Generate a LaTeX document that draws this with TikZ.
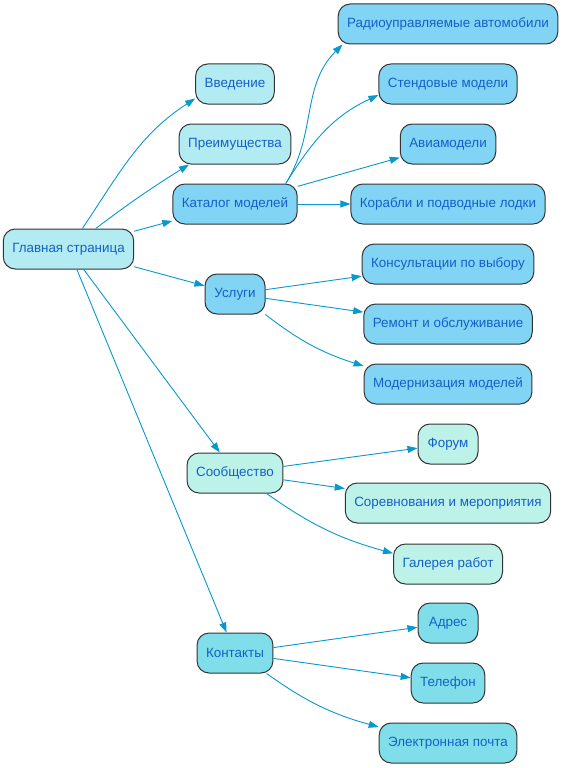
\documentclass[tikz,border=0pt]{standalone}
\usepackage{fontspec}
\setmainfont{Liberation Sans}
\usetikzlibrary{arrows.meta}
\definecolor{boxA}{HTML}{B2EBF2}
\definecolor{boxB}{HTML}{81D4F4}
\definecolor{boxC}{HTML}{BCF2E8}
\definecolor{boxD}{HTML}{80DEEA}
\definecolor{txt}{HTML}{1560C8}
\definecolor{wire}{HTML}{0898CC}
\tikzset{
  page/.style={draw=black!80, line width=1pt, rounded corners=12pt,
    minimum width=60pt, minimum height=40pt, inner xsep=9pt,
    text=txt, font=\fontsize{13.4}{15}\selectfont},
  wire/.style={draw=wire, line width=0.9pt, -{Triangle[length=10pt,width=7pt]}}
}
\begin{document}
\begin{tikzpicture}[x=1pt,y=-1pt]
        \useasboundingbox (0,0) rectangle (564,768);
        \node [page, fill=boxA] (main)      at (68.5,249) {Главная страница};          %root
        \node [page, fill=boxA] (intro)     at (235,84)   {Введение};                  %
        \node [page, fill=boxA] (adv)       at (235,144)  {Преимущества};              %
        \node [page, fill=boxB] (catalog)   at (235,204)  {Каталог моделей};           %
        \node [page, fill=boxB] (services)  at (235,294)  {Услуги};                    %
        \node [page, fill=boxC] (community) at (235,473)  {Сообщество};                %
        \node [page, fill=boxD] (contacts)  at (235,653)  {Контакты};                  %
        \node [page, fill=boxB] (rc)        at (448,24)   {Радиоуправляемые автомобили};%catalog
        \node [page, fill=boxB] (stand)     at (448,84)   {Стендовые модели};          %
        \node [page, fill=boxB] (avia)      at (448,144)  {Авиамодели};                %
        \node [page, fill=boxB] (ships)     at (448,204)  {Корабли и подводные лодки}; %
        \node [page, fill=boxB] (consult)   at (448,264)  {Консультации по выбору};    %services
        \node [page, fill=boxB] (repair)    at (448,324)  {Ремонт и обслуживание};     %
        \node [page, fill=boxB] (upgrade)   at (448,384)  {Модернизация моделей};      %
        \node [page, fill=boxC] (forum)     at (448,444)  {Форум};                     %community
        \node [page, fill=boxC] (contests)  at (448,503)  {Соревнования и мероприятия};%
        \node [page, fill=boxC] (gallery)   at (448,564)  {Галерея работ};             %
        \node [page, fill=boxD] (address)   at (448,623)  {Адрес};                     %contacts
        \node [page, fill=boxD] (phone)     at (448,683)  {Телефон};                   %
        \node [page, fill=boxD] (email)     at (448,743)  {Электронная почта};         %
        \draw [wire] (main.56) to[out=56,in=213] (intro.200);                          %
        \draw [wire] (main.37) to[out=37,in=212] (adv.204);                            %
        \draw [wire] (main) -- (catalog);                                              %
        \draw [wire] (main) -- (services);                                             %
        \draw [wire] (main) -- (community);                                            %
        \draw [wire] (main) -- (contacts);                                             %
        \draw [wire] (catalog.22) to[out=58,in=225] (rc.191.5);                        %
        \draw [wire] (catalog.22) to[out=58,in=205] (stand.189);                       %
        \draw [wire] (catalog) -- (avia);                                              %
        \draw [wire] (catalog) -- (ships);                                             %
        \draw [wire] (services) -- (consult);                                          %
        \draw [wire] (services) -- (repair);                                           %
        \draw [wire] (services.-34) to[bend right=10] (upgrade.168);                   %
        \draw [wire] (community) -- (forum);                                           %
        \draw [wire] (community) -- (contests);                                        %
        \draw [wire] (community.-33) to[bend right=10] (gallery.169);                  %
        \draw [wire] (contacts) -- (address);                                          %
        \draw [wire] (contacts) -- (phone);                                            %
        \draw [wire] (contacts.-33) to[bend right=10] (email.167);                     %
       \end{tikzpicture}
\end{document}
